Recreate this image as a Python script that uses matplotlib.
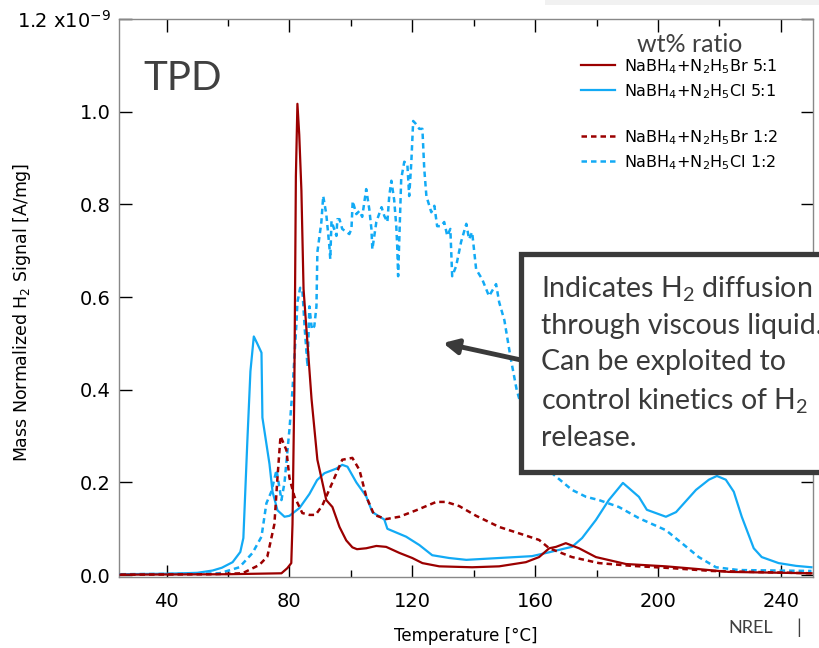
import matplotlib
matplotlib.use("Agg")
import matplotlib.pyplot as plt
from matplotlib.lines import Line2D
from matplotlib.patches import Rectangle

# --- data (signal in units of 1e-9 A/mg) ---
br51_t = [25, 60, 77.4, 79.3, 80.6, 81.0, 81.6, 82.1, 82.6, 83.2,
          83.9, 84.6, 87.2, 89.1, 92, 94, 96.3, 98.5, 100.5, 102,
          105, 108.3, 111.5, 115.8, 120, 123.3, 128.8, 139.5, 148.3, 157,
          161.3, 164.6, 166.8, 170, 174.3, 179.8, 189.6, 202.6, 213.3, 223, 250]
br51_v = [0.001, 0.002, 0.004, 0.015, 0.026, 0.11, 0.40, 0.86, 1.017, 0.95,
          0.83, 0.617, 0.38, 0.249, 0.162, 0.147, 0.104, 0.075, 0.06, 0.056,
          0.058, 0.063, 0.061, 0.048, 0.037, 0.026, 0.019, 0.017, 0.019, 0.028,
          0.039, 0.058, 0.061, 0.069, 0.058, 0.039, 0.024, 0.019, 0.013, 0.007, 0.004]

cl51_t = [25, 40, 50, 55, 58, 61.5, 64, 65, 66.3, 67.3,
          68.4, 69.5, 70.9, 71.2, 73.5, 74.5, 76.1, 78.4, 80, 83.3,
          86.5, 89, 91.4, 95.3, 97.2, 98.9, 101.8, 105, 107, 110.9,
          111.9, 118, 122.3, 126.5, 132, 137.6, 148.3, 159, 165, 170,
          172, 175.3, 179.8, 184, 188.6, 193.8, 196.4, 202.6, 205.9, 212.4,
          216.6, 219.2, 222.1, 224.7, 227.3, 231.2, 233.8, 239.3, 245, 250]
cl51_v = [0.002, 0.003, 0.005, 0.01, 0.016, 0.028, 0.05, 0.08, 0.29, 0.44,
          0.515, 0.50, 0.48, 0.34, 0.24, 0.18, 0.14, 0.126, 0.128, 0.145,
          0.175, 0.205, 0.22, 0.23, 0.238, 0.234, 0.20, 0.17, 0.136, 0.12,
          0.10, 0.083, 0.065, 0.043, 0.037, 0.033, 0.037, 0.041, 0.05, 0.058,
          0.061, 0.08, 0.119, 0.162, 0.199, 0.169, 0.141, 0.126, 0.136, 0.184,
          0.206, 0.214, 0.206, 0.18, 0.126, 0.058, 0.039, 0.026, 0.02, 0.017]

br12_t = [25, 55, 64.7, 70.2, 72.8, 75.1, 76.1, 77.1, 79, 80,
          81.6, 84.2, 86.5, 88.5, 90.7, 94, 97.2, 100.5, 102.8, 105,
          107.6, 111.5, 115.8, 121.3, 127.8, 131, 135.3, 140.8, 148.3, 155.8,
          161.3, 164.6, 172, 180.8, 191.5, 204.6, 217.6, 237, 250]
br12_v = [0.001, 0.002, 0.004, 0.022, 0.04, 0.11, 0.21, 0.30, 0.27, 0.21,
          0.17, 0.134, 0.13, 0.13, 0.15, 0.2, 0.249, 0.253, 0.227, 0.17,
          0.13, 0.121, 0.126, 0.14, 0.158, 0.158, 0.149, 0.128, 0.104, 0.088,
          0.076, 0.058, 0.039, 0.026, 0.02, 0.015, 0.009, 0.006, 0.004]

cl12_t = [25, 50, 57.2, 63.7, 68, 70.9, 72.5, 74.1, 75.8, 77.4,
          78.4, 80, 81, 82.3, 82.6, 83.5, 84.2, 85.0, 85.9, 86.5,
          87.3, 88.1, 88.8, 89.1, 90.4, 91, 92, 93, 93.3, 93.7,
          95.3, 95.6, 96.3, 97.2, 99.5, 100.2, 100.6, 101.8, 102.8, 103.7,
          105, 106, 106.7, 107, 108.3, 110, 110.9, 111.9, 112.5, 113.2,
          114.1, 114.8, 115.1, 115.4, 116.4, 117.4, 118.4, 119, 119.7, 120.3,
          121, 122.3, 123.3, 123.9, 124.6, 126.2, 127.2, 128.1, 129.4, 130.4,
          131.4, 132.4, 133, 134.3, 135.9, 137.6, 138.5, 139.5, 140.8, 142.8,
          145, 147.3, 148.3, 150, 152, 154, 157, 161, 165.5, 172,
          176.6, 180.8, 187.3, 193.8, 202.6, 207.8, 213.3, 218.9, 226.3, 250]
cl12_v = [0.002, 0.003, 0.004, 0.017, 0.048, 0.083, 0.155, 0.18, 0.227, 0.162,
          0.2, 0.314, 0.40, 0.545, 0.589, 0.62, 0.617, 0.53, 0.45, 0.58,
          0.53, 0.537, 0.58, 0.697, 0.762, 0.818, 0.779, 0.71, 0.682, 0.764,
          0.732, 0.768, 0.768, 0.747, 0.736, 0.747, 0.807, 0.779, 0.786, 0.773,
          0.833, 0.79, 0.747, 0.703, 0.762, 0.794, 0.775, 0.762, 0.818, 0.851,
          0.81, 0.753, 0.71, 0.645, 0.855, 0.892, 0.887, 0.818, 0.892, 0.98,
          0.975, 0.963, 0.963, 0.877, 0.818, 0.783, 0.797, 0.753, 0.753, 0.762,
          0.732, 0.747, 0.645, 0.667, 0.719, 0.758, 0.725, 0.74, 0.66, 0.638,
          0.602, 0.628, 0.589, 0.55, 0.47, 0.40, 0.33, 0.27, 0.22, 0.184,
          0.169, 0.162, 0.147, 0.123, 0.097, 0.069, 0.039, 0.017, 0.011, 0.009]

labels = ["NaBH$\\mathregular{_4}$+N$\\mathregular{_2}$H$\\mathregular{_5}$Br 5:1",
          "NaBH$\\mathregular{_4}$+N$\\mathregular{_2}$H$\\mathregular{_5}$Cl 5:1",
          "NaBH$\\mathregular{_4}$+N$\\mathregular{_2}$H$\\mathregular{_5}$Br 1:2",
          "NaBH$\\mathregular{_4}$+N$\\mathregular{_2}$H$\\mathregular{_5}$Cl 1:2"]
ytick_vals = [0.0, 0.2, 0.4, 0.6, 0.8, 1.0, 1.2]
ytick_labels = ["0.0", "0.2", "0.4", "0.6", "0.8", "1.0", "1.2 x10$^{-9}$"]
xtick_vals = [40, 80, 120, 160, 200, 240]

RED = "#9B0000"
BLUE = "#12AAF5"
GREY = "#404040"
W, H = 819, 648

fig = plt.figure(figsize=(W / 100, H / 100), dpi=100)
ax = fig.add_axes([119 / W, 1 - 577 / H, (813 - 119) / W, (577 - 19) / H])

# faint slide shadow at the top right
fig.add_artist(Rectangle((545 / W, 1 - 5 / H), (W - 545) / W, 5 / H,
                         transform=fig.transFigure, facecolor="#f1f1f1",
                         edgecolor="none"))

dash = (0, (2.2, 1.6))
l1, = ax.plot(br51_t, br51_v, color=RED, lw=1.6, label=labels[0], zorder=4)
l2, = ax.plot(cl51_t, cl51_v, color=BLUE, lw=1.6, label=labels[1], zorder=3)
l3, = ax.plot(br12_t, br12_v, color=RED, lw=1.8, ls=dash, label=labels[2], zorder=3)
l4, = ax.plot(cl12_t, cl12_v, color=BLUE, lw=1.8, ls=dash, label=labels[3], zorder=2)

ax.set_xlim(24.5, 250.5)
ax.set_ylim(-0.004, 1.2)
ax.set_xticks(xtick_vals)
ax.set_xticks([60, 100, 140, 180, 220], minor=True)
ax.set_yticks(ytick_vals)
ax.set_yticklabels(ytick_labels)
ax.tick_params(which="both", direction="in", top=True, right=True, labelsize=14, width=1)
ax.tick_params(which="major", length=9)
ax.tick_params(which="minor", length=5)
ax.tick_params(axis="x", pad=11)
ax.tick_params(axis="y", pad=6)
for s in ax.spines.values():
    s.set_color("#888888")
    s.set_linewidth(1)

ax.set_xlabel("Temperature [\u00b0C]", fontsize=12)
ax.set_ylabel("Mass Normalized H$\\mathregular{_2}$ Signal [A/mg]", fontsize=12.5)
ax.xaxis.set_label_coords(0.5, (577 - 627) / 558)
ax.yaxis.set_label_coords((33 - 119) / 694, (577 - 312) / 558)

blank = Line2D([], [], color="none", label=" ")
leg = ax.legend(handles=[l1, l2, blank, l3, l4], loc="upper left",
                bbox_to_anchor=(581 / W, 1 - 57 / H), bbox_transform=fig.transFigure,
                frameon=False, fontsize=11.5, handlelength=2.1, handletextpad=0.6,
                labelspacing=0.39, borderpad=0, borderaxespad=0)

fig.text(690 / W, 1 - 44 / H, "wt% ratio", family="Lato", fontsize=18, color=GREY,
         ha="center", va="center")
fig.text(143 / W, 1 - 90 / H, "TPD", family="Lato", fontsize=29, color=GREY,
         ha="left", va="baseline")

# annotation box + arrow
box = Rectangle((521 / W, 1 - 472 / H), (840 - 521) / W, (472 - 254) / H,
                transform=fig.transFigure, facecolor="white", edgecolor="#3a3a3a",
                lw=3.8, zorder=10)
fig.add_artist(box)
ax.annotate("", xy=(443, H - 343), xytext=(521, H - 360), xycoords="figure pixels",
            textcoords="figure pixels",
            arrowprops=dict(arrowstyle="-|>", color="#3a3a3a", lw=3.5,
                            mutation_scale=22, shrinkA=0, shrinkB=0), zorder=11)
fig.text(541 / W, 1 - 274 / H,
         "Indicates H$\\mathregular{_2}$ diffusion\nthrough viscous liquid.\nCan be exploited to\n"
         "control kinetics of H$\\mathregular{_2}$\nrelease.",
         family="Lato", fontsize=20.5, color="#3a3a3a", ha="left", va="top",
         linespacing=1.47, zorder=12)

fig.text(728 / W, 1 - 628 / H, "NREL", family="Lato", fontsize=13, color=GREY,
         va="center")
fig.text(796 / W, 1 - 628 / H, "|", family="Lato", fontsize=14, color=GREY,
         va="center")

fig.savefig("out.png", dpi=100)
